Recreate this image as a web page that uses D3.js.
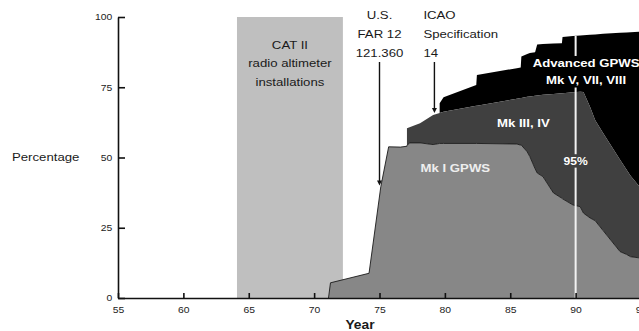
<!DOCTYPE html>
<html>
<head>
<meta charset="utf-8">
<script src="https://cdn.jsdelivr.net/npm/d3@7"></script>
<style>
  body { margin: 0; background: #fff; }
  svg { display: block; font-family: "Liberation Sans", Arial, sans-serif; }
</style>
</head>
<body>
<div id="chart"></div>
<script>
// year points (duplicated years = vertical steps)
var years  = [71.1, 71.25, 74.2, 75.1, 75.7, 76.6, 77.1, 77.1, 77.3, 78.1, 79.1, 79.6, 79.6, 79.9, 82.4, 82.45,
              85.5, 85.8, 85.85, 86.3, 86.5, 86.9, 87.06, 87.5, 88.3, 88.95, 89.0, 89.8, 90.35, 90.6, 91.1,
              91.5, 92.1, 93.4, 93.9, 94.2, 95.0];
// cumulative percentage of fleet
var mk1Pct = [0, 5.4, 8.8, 39.6, 53.8, 53.7, 54.0, 54.2, 55.2, 55.2, 54.6, 55.0, 55.0, 55.0, 55.0, 55.0,
              54.8, 54.4, 54.4, 52.0, 50.3, 46.0, 44.5, 43.2, 37.4, 35.5, 35.3, 33.1, 32.5, 30.2, 28.5,
              27.5, 24.0, 16.5, 15.5, 14.7, 14.2];
var mk3Pct = [0, 5.4, 8.8, 39.6, 53.8, 53.7, 54.0, 60.4, 60.8, 62.2, 65.1, 65.8, 65.8, 66.3, 68.4, 68.4,
              70.9, 71.2, 71.2, 71.6, 71.7, 72.0, 72.1, 72.3, 72.6, 72.9, 72.9, 73.2, 73.4, 73.3, 68.1,
              63.3, 58.7, 49.2, 45.6, 43.5, 39.0];
var advPct = [0, 5.4, 8.8, 39.6, 53.8, 53.7, 54.0, 60.4, 60.8, 62.2, 65.1, 65.8, 69.3, 71.4, 75.8, 79.4,
              81.8, 82.0, 85.9, 86.8, 87.2, 87.5, 90.2, 90.4, 90.6, 90.7, 92.9, 93.2, 93.4, 93.5, 93.7,
              93.8, 94.0, 94.4, 94.5, 94.6, 94.8];

var xTicks = [55, 60, 65, 70, 75, 80, 85, 90, 95];
var yTicks = [0, 25, 50, 75, 100];
var catBand = [64.1, 72.2];
var markYear = 90;

var W = 639, H = 331;
var svg = d3.select("#chart").append("svg").attr("width", W).attr("height", H);

var x = d3.scaleLinear().domain([55, 95]).range([118, 641]);
var y = d3.scaleLinear().domain([0, 100]).range([298, 17]);

var rows = years.map(function(yr, i) {
    return { year: yr, l1: mk1Pct[i], l2: mk3Pct[i], l3: advPct[i] };
});

function valueAt(key, yr) {
    for (var i = 1; i < rows.length; i++) {
        if (rows[i].year >= yr) {
            var a = rows[i - 1], b = rows[i];
            var t = (yr - a.year) / (b.year - a.year);
            return a[key] + t * (b[key] - a[key]);
        }
    }
    return rows[rows.length - 1][key];
}

// text helper, the source type is wide
function label(g, px, py, str, opts) {
    opts = opts || {};
    return g.append("text")
        .attr("transform", "translate(" + px + "," + py + ") scale(" + (opts.sx || 1.2) + ",1)")
        .attr("dy", "0.35em")
        .attr("text-anchor", opts.anchor || "middle")
        .style("font-size", (opts.size || 11) + "px")
        .style("font-weight", opts.bold ? "bold" : "normal")
        .style("fill", opts.fill || "#1a1a1a")
        .text(str);
}

// CAT II band
svg.append("rect")
    .attr("x", x(catBand[0])).attr("y", y(100))
    .attr("width", x(catBand[1]) - x(catBand[0]))
    .attr("height", y(0) - y(100))
    .attr("fill", "#bfbfbf");

// areas
var blackArea = d3.area().x(function(d) { return x(d.year); })
    .y0(function(d) { return y(d.l2); }).y1(function(d) { return y(d.l3); });
var darkArea = d3.area().x(function(d) { return x(d.year); })
    .y0(function(d) { return y(d.l1); }).y1(function(d) { return y(d.l2); });
var lightArea = d3.area().x(function(d) { return x(d.year); })
    .y0(y(0)).y1(function(d) { return y(d.l1); });

svg.append("path").datum(rows).attr("d", blackArea).attr("fill", "#000");
svg.append("path").datum(rows).attr("d", darkArea).attr("fill", "#404040");
svg.append("path").datum(rows).attr("d", lightArea).attr("fill", "#878787");
svg.append("path").datum(rows)
    .attr("d", d3.line().x(function(d) { return x(d.year); }).y(function(d) { return y(d.l1); }))
    .attr("fill", "none").attr("stroke", "#1a1a1a").attr("stroke-width", 0.9);

// mask for the 1990 marker line
var mask = svg.append("defs").append("mask").attr("id", "gapMask")
    .attr("maskUnits", "userSpaceOnUse")
    .attr("x", 0).attr("y", 0).attr("width", W).attr("height", H);
mask.append("rect").attr("width", W).attr("height", H).attr("fill", "#fff");

var marker = svg.append("line")
    .attr("x1", x(markYear)).attr("x2", x(markYear))
    .attr("y1", y(0)).attr("y2", y(valueAt("l3", markYear)))
    .attr("stroke", "#f2f2f2").attr("stroke-width", 2)
    .attr("mask", "url(#gapMask)");

// axes
var xAxis = d3.axisBottom(x).tickValues(xTicks).tickSizeInner(-5).tickSizeOuter(0).tickPadding(9);
var yAxis = d3.axisLeft(y).tickValues(yTicks).tickSizeInner(-7).tickSizeOuter(0).tickPadding(5);

var gx = svg.append("g").attr("transform", "translate(0," + y(0) + ")").call(xAxis);
var gy = svg.append("g").attr("transform", "translate(" + x(55) + ",0)").call(yAxis);
[gx, gy].forEach(function(g) {
    g.select(".domain").attr("stroke", "#111").attr("stroke-width", 1.6);
    g.selectAll(".tick line").attr("stroke", "#111").attr("stroke-width", 1.6);
    g.selectAll(".tick text")
        .style("font-size", "9px").style("fill", "#222")
        .attr("transform", "scale(1.15,1)")
        .style("font-family", "'Liberation Sans', Arial, sans-serif");
});

// axis titles
label(svg, 12, y(50), "Percentage", { anchor: "start", size: 11 });
label(svg, 360, 325, "Year", { size: 12, bold: true, sx: 1.15 });

// CAT II note
var cat = svg.append("g");
["CAT II", "radio altimeter", "installations"].forEach(function(s, i) {
    label(cat, (x(catBand[0]) + x(catBand[1])) / 2, 45 + i * 18.5, s, { size: 11 });
});

// regulation notes with arrows
var notes = [
    { lines: ["U.S.", "FAR 12", "121.360"], year: 75, tip: 40, anchor: "middle", tx: 0 },
    { lines: ["ICAO", "Specification", "14"], year: 79.2, tip: 65.8, anchor: "start", tx: -11 }
];
notes.forEach(function(n) {
    var g = svg.append("g");
    n.lines.forEach(function(s, i) {
        label(g, x(n.year) + n.tx, 15 + i * 19, s, { size: 11, anchor: n.anchor });
    });
    g.append("line")
        .attr("x1", x(n.year)).attr("x2", x(n.year))
        .attr("y1", 62).attr("y2", y(n.tip) - 3)
        .attr("stroke", "#111").attr("stroke-width", 1.4);
    g.append("path")
        .attr("d", "M" + (x(n.year) - 2.5) + "," + (y(n.tip) - 5) + "L" + (x(n.year) + 2.5) + "," + (y(n.tip) - 5) +
                   "L" + x(n.year) + "," + y(n.tip) + "Z")
        .attr("fill", "#111");
});

// series labels
var adv = svg.append("g");
label(adv, x(90.8), y(83.6), "Advanced GPWS", { bold: true, fill: "#fff", size: 11 });
label(adv, x(90.8), y(77.6), "Mk V, VII, VIII", { bold: true, fill: "#fff", size: 11 });
label(svg, x(86), y(62.3), "Mk III, IV", { bold: true, fill: "#fff", size: 11 });
label(svg, x(80.8), y(46.3), "Mk I GPWS", { bold: true, fill: "#eee", size: 11 });
var pct = svg.append("g");
label(pct, x(markYear), y(48.8), "95%", { bold: true, fill: "#fff", size: 11, sx: 1.1 });

// cut the marker line around its labels
[adv, pct].forEach(function(g) {
    var b = g.node().getBBox();
    mask.append("rect")
        .attr("x", b.x - 2).attr("y", b.y - 1)
        .attr("width", b.width + 4).attr("height", b.height + 2)
        .attr("fill", "#000");
});
</script>
</body>
</html>
